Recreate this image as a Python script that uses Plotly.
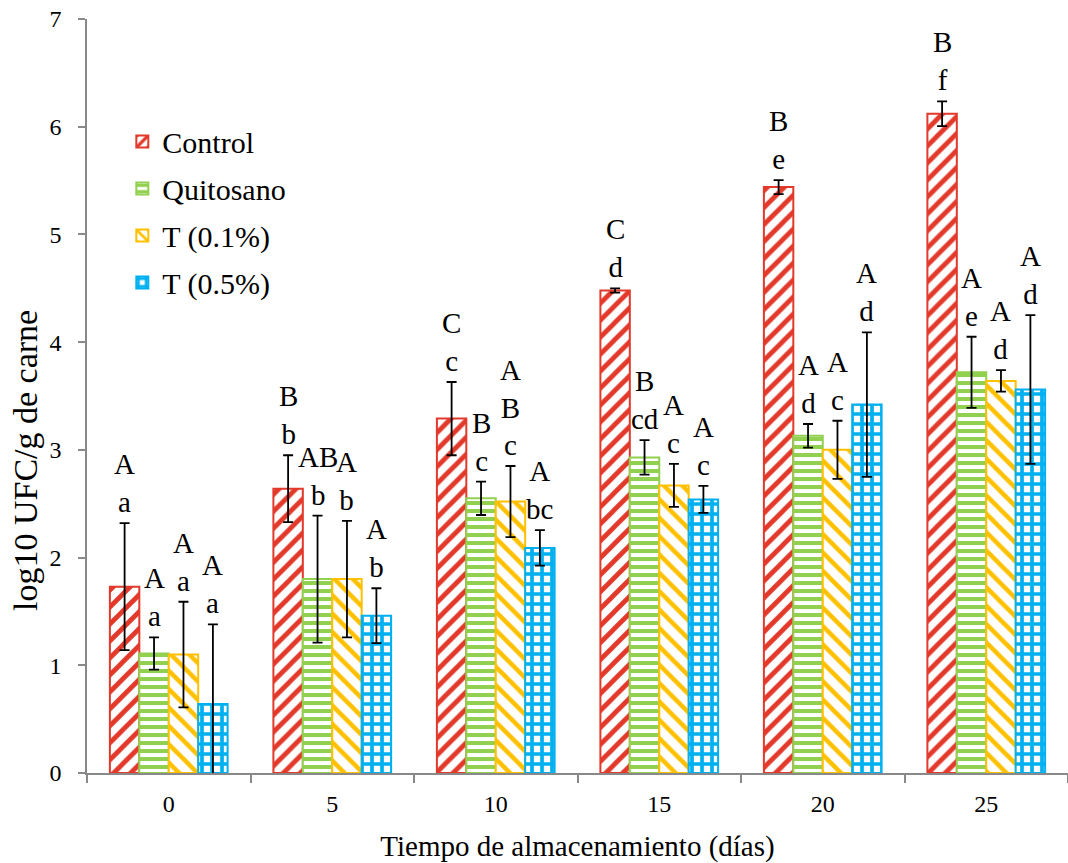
import plotly.graph_objects as go

# ---- data ----
days = ["0", "5", "10", "15", "20", "25"]
series_names = ["Control", "Quitosano", "T (0.1%)", "T (0.5%)"]

control = [1.73, 2.64, 3.29, 4.48, 5.44, 6.12]
control_err = [0.59, 0.31, 0.34, 0.02, 0.065, 0.115]
quitosano = [1.11, 1.80, 2.55, 2.93, 3.13, 3.72]
quitosano_err = [0.15, 0.59, 0.155, 0.16, 0.11, 0.33]
t01 = [1.10, 1.80, 2.52, 2.67, 3.00, 3.64]
t01_err = [0.49, 0.54, 0.33, 0.20, 0.27, 0.10]
t05 = [0.64, 1.46, 2.09, 2.54, 3.42, 3.56]
t05_err = [0.74, 0.255, 0.165, 0.125, 0.67, 0.69]

upper_control = ["A", "B", "C", "C", "B", "B"]
upper_quitosano = ["A", "AB", "B", "B", "A", "A"]
upper_t01 = ["A", "A", "A<br>B", "A", "A", "A"]
upper_t05 = ["A", "A", "A", "A", "A", "A"]
lower_control = ["a", "b", "c", "d", "e", "f"]
lower_quitosano = ["a", "b", "c", "cd", "d", "e"]
lower_t01 = ["a", "b", "c", "c", "c", "d"]
lower_t05 = ["a", "b", "bc", "c", "d", "d"]

values = [control, quitosano, t01, t05]
errors = [control_err, quitosano_err, t01_err, t05_err]
uppers = [upper_control, upper_quitosano, upper_t01, upper_t05]
lowers = [lower_control, lower_quitosano, lower_t01, lower_t05]

# ---- styles ----
FONT = "Liberation Serif"
colors = ["#E2392B", "#92D050", "#FFC000", "#00B0F0"]
patterns = [
    dict(shape="/", size=12, solidity=0.4),
    dict(shape="-", size=8, solidity=0.5),
    dict(shape="\\", size=13, solidity=0.35),
    dict(shape="+", size=10, solidity=0.6),
]
axis_color = "#898989"
bargap = 0.28

fig = go.Figure()
for i, name in enumerate(series_names):
    fig.add_trace(go.Bar(
        name=name,
        x=days,
        y=values[i],
        legendgroup=name,
        marker=dict(
            color="white",
            line=dict(color=colors[i], width=2),
            pattern=dict(fgcolor=colors[i], bgcolor="white",
                         fillmode="replace", **patterns[i]),
        ),
        error_y=dict(type="data", array=errors[i], visible=True,
                     color="black", thickness=1.8, width=5),
    ))

# letter annotations above each error bar
nser = len(series_names)
bw = (1 - bargap) / nser
annotations = []
for i in range(nser):
    for j in range(len(days)):
        annotations.append(dict(
            x=j + (i - (nser - 1) / 2) * bw,
            y=values[i][j] + errors[i][j],
            xref="x", yref="y",
            text=f"{uppers[i][j]}<br>{lowers[i][j]}",
            showarrow=False, xanchor="center", yanchor="bottom",
            yshift=3,
            font=dict(family=FONT, size=29, color="black"),
        ))

# y-axis title as annotation (centred lower than plot middle, like reference)
annotations.append(dict(
    x=-0.062, y=0.414, xref="paper", yref="paper",
    text="log10 UFC/g de carne", textangle=-90, showarrow=False,
    xanchor="center", yanchor="middle",
    font=dict(family=FONT, size=34, color="black"),
))

fig.update_layout(
    width=1068, height=863,
    margin=dict(l=87, r=0, t=19, b=90),
    paper_bgcolor="white", plot_bgcolor="white",
    barmode="group", bargap=bargap, bargroupgap=0,
    font=dict(family=FONT, color="black"),
    showlegend=True,
    legend=dict(
        x=0.036, y=0.872, xanchor="left", yanchor="top",
        font=dict(family=FONT, size=30, color="black"),
        bgcolor="rgba(0,0,0,0)", tracegroupgap=5,
        itemwidth=30,
    ),
    annotations=annotations,
    xaxis=dict(
        type="category",
        showline=True, linecolor=axis_color, linewidth=1.5,
        ticks="outside", tickson="boundaries", ticklen=8,
        tickcolor=axis_color, tickwidth=1.5,
        tickfont=dict(family=FONT, size=24, color="black"),
        ticklabelstandoff=8,
        showgrid=False,
        title=dict(text="Tiempo de almacenamiento (días)",
                   font=dict(family=FONT, size=29, color="black"),
                   standoff=20),
        automargin=False,
    ),
    yaxis=dict(
        range=[0, 7], dtick=1,
        showline=True, linecolor=axis_color, linewidth=1.5,
        ticks="outside", ticklen=7, tickcolor=axis_color, tickwidth=1.5,
        tickfont=dict(family=FONT, size=24, color="black"),
        ticklabelstandoff=12,
        showgrid=False, zeroline=False,
        automargin=False,
    ),
)

fig.write_html("out.html",
               config={"displayModeBar": False},
               post_script="document.body.style.margin='0';")
